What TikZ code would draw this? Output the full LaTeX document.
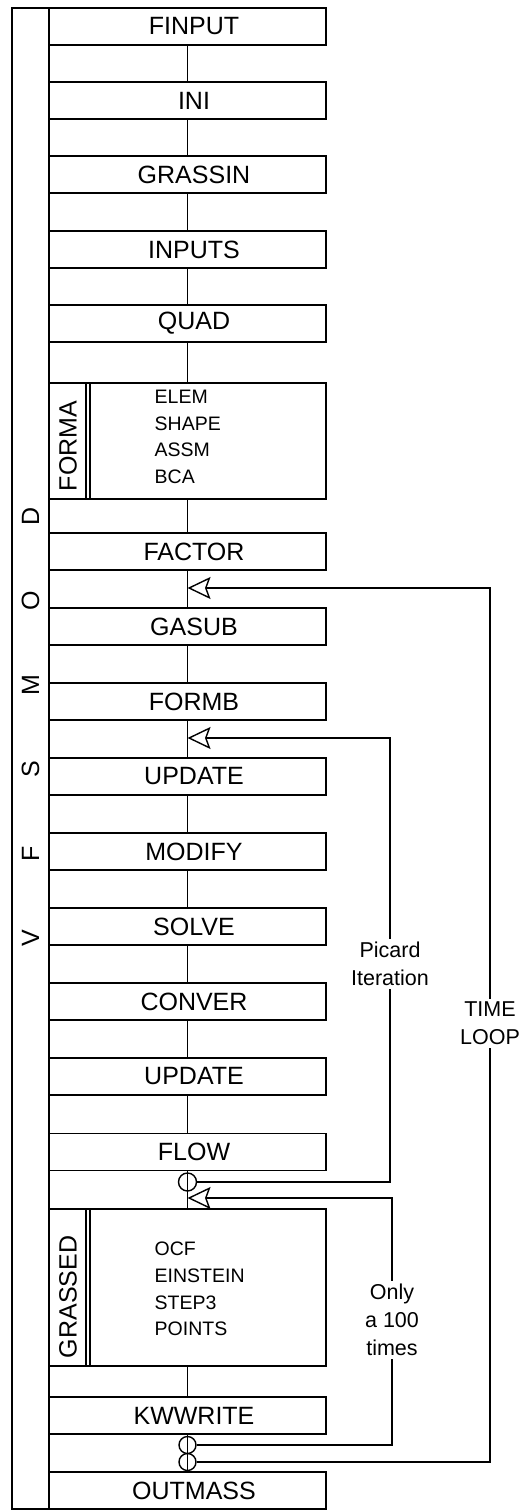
\documentclass[tikz,border=0pt]{standalone}
\usepackage{fontspec}
\setmainfont{Liberation Sans}
\usetikzlibrary{arrows.meta}

\tikzset{
  box/.style={draw, minimum width=277pt, minimum height=37pt, inner sep=0pt,
    font=\fontsize{25}{30}\selectfont, execute at begin node=\hspace*{13pt}},
  bigbox/.style={draw, minimum width=277pt, inner sep=0pt},
  sublist/.style={anchor=west, align=left, inner sep=0pt, font=\fontsize{19.5}{26.7}\selectfont},
  sidelbl/.style={rotate=90, inner sep=0pt, font=\fontsize{25}{30}\selectfont},
  looplbl/.style={fill=white, align=center, inner sep=3pt, font=\fontsize{21.5}{28}\selectfont},
  joint/.style={draw, circle, minimum size=18pt, inner sep=0pt},
  back/.style={-{Stealth[open, length=23pt, width=22pt, inset=4pt]}},
}

\begin{document}
\begin{tikzpicture}[x=1pt, y=-1pt, line width=1.4pt]
    \useasboundingbox (0,0) rectangle (519,1511);

    % VFSMOD bar
    \draw (12,8) rectangle (49,1509);
    \node [sidelbl] (sd) at (30.5,516) {D};
    \node [sidelbl] (so) at (30.5,600.5) {O};
    \node [sidelbl] (sm) at (30.5,685) {M};
    \node [sidelbl] (ss) at (30.5,769.5) {S};
    \node [sidelbl] (sf) at (30.5,854) {F};
    \node [sidelbl] (sv) at (30.5,938.5) {V};

    % Routines
    \node [box] (finput) at (187.5,26.5) {FINPUT};
    \node [box] (ini) at (187.5,100.5) {INI};
    \node [box] (grassin) at (187.5,174.5) {GRASSIN};
    \node [box] (inputs) at (187.5,249.5) {INPUTS};
    \node [box] (quad) at (187.5,323.5) {QUAD};
    \node [bigbox, minimum height=116pt] (forma) at (187.5,441) {};
    \node [box] (factor) at (187.5,551.5) {FACTOR};
    \node [box] (gasub) at (187.5,626.5) {GASUB};
    \node [box] (formb) at (187.5,701.5) {FORMB};
    \node [box] (updatea) at (187.5,776.5) {UPDATE};
    \node [box] (modify) at (187.5,851.5) {MODIFY};
    \node [box] (solve) at (187.5,926.5) {SOLVE};
    \node [box] (conver) at (187.5,1001.5) {CONVER};
    \node [box] (updateb) at (187.5,1076.5) {UPDATE};
    \node [box] (flow) at (187.5,1152) {FLOW};
    \node [bigbox, minimum height=157pt] (grassed) at (187.5,1287.5) {};
    \node [box] (kwwrite) at (187.5,1415.5) {KWWRITE};
    \node [box] (outmass) at (187.5,1490.5) {OUTMASS};

    % FORMA
    \draw (86,383) -- (86,499);
    \draw (90,383) -- (90,499);
    \node [sidelbl] (formalbl) at (68,446) {FORMA};
    \node [sublist] (formalist) at (154,437) {ELEM\\SHAPE\\ASSM\\BCA};

    % GRASSED
    \draw (86,1209) -- (86,1366);
    \draw (90,1209) -- (90,1366);
    \node [sidelbl] (grassedlbl) at (68,1297) {GRASSED};
    \node [sublist] (grassedlist) at (154,1289) {OCF\\EINSTEIN\\STEP3\\POINTS};

    % Main line
    \draw (finput) -- (ini);
    \draw (ini) -- (grassin);
    \draw (grassin) -- (inputs);
    \draw (inputs) -- (quad);
    \draw (quad) -- (forma);
    \draw (forma) -- (factor);
    \draw (factor) -- (gasub);
    \draw (gasub) -- (formb);
    \draw (formb) -- (updatea);
    \draw (updatea) -- (modify);
    \draw (modify) -- (solve);
    \draw (solve) -- (conver);
    \draw (conver) -- (updateb);
    \draw (updateb) -- (flow);
    \draw (flow) -- (grassed);
    \draw (grassed) -- (kwwrite);
    \draw (kwwrite) -- (outmass);

    % Joints
    \node [joint] (jpicard) at (187.5,1182) {};
    \node [joint, minimum size=17pt] (jonly) at (187.5,1445) {};
    \node [joint, minimum size=17pt] (jtime) at (187.5,1462) {};

    % Loops
    \coordinate (tiptime) at (187.5,588);
    \coordinate (turntime) at (490,588);
    \coordinate (tippicard) at (187.5,738);
    \coordinate (turnpicard) at (390,738);
    \coordinate (tiponly) at (187.5,1198);
    \coordinate (turnonly) at (392,1198);

    \draw [back] (jtime.east) -| (turntime) -- (tiptime);
    \draw [back] (jpicard.east) -| (turnpicard) -- (tippicard);
    \draw [back] (jonly.east) -| (turnonly) -- (tiponly);

    \node [looplbl] (picardlbl) at (390,964) {Picard\\Iteration};
    \node [looplbl] (timelbl) at (490,1023) {TIME\\LOOP};
    \node [looplbl] (onlylbl) at (392,1320) {Only\\a 100\\times};
\end{tikzpicture}
\end{document}
